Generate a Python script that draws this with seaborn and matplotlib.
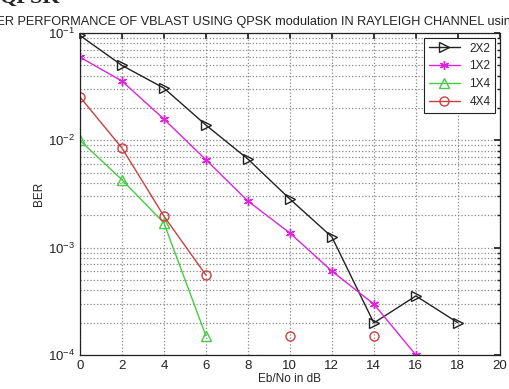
import numpy as np
import pandas as pd
import matplotlib
matplotlib.use("Agg")
import matplotlib.pyplot as plt
import seaborn as sns
from matplotlib.ticker import LogLocator, NullFormatter, FixedLocator
from matplotlib.lines import Line2D

ebno = [0, 2, 4, 6, 8, 10, 12, 14, 16, 18]
ber_2x2 = [0.095, 0.050, 0.0307, 0.0139, 0.0067, 0.00284, 0.00126, 0.000199, 0.000355, 0.0002]
ber_1x2 = [0.0597, 0.0357, 0.0158, 0.0066, 0.00272, 0.00137, 0.000605, 0.000298, 0.0001, np.nan]
ber_1x4 = [0.0100, 0.0043, 0.0017, 0.000151, np.nan, np.nan, np.nan, np.nan, np.nan, np.nan]
ber_4x4 = [0.0254, 0.0085, 0.00197, 0.000556, np.nan, 0.00015, np.nan, 0.00015, np.nan, np.nan]
series_names = ["2X2", "1X2", "1X4", "4X4"]

sns.set_theme(style="white")
plt.rcParams['font.family'] = ['Liberation Sans', 'DejaVu Sans']

fig = plt.figure(figsize=(5.09, 3.89), dpi=100)
ax = fig.add_axes([0.157, 0.0874, 0.825, 0.8276])

styles = {
    "2X2": dict(color="#222222", marker=">", mfc="none"),
    "1X2": dict(color="#dd22dd", marker=(6, 2, 0), mfc="#dd22dd"),
    "1X4": dict(color="#44cc44", marker="^", mfc="none"),
    "4X4": dict(color="#c84040", marker="o", mfc="none"),
}

all_vals = [ber_2x2, ber_1x2, ber_1x4, ber_4x4]
for name, vals in zip(series_names, all_vals):
    v = np.array(vals, dtype=float)
    seg = np.cumsum(np.isnan(v))
    df = pd.DataFrame({"x": ebno, "y": v, "seg": seg}).dropna()
    st = styles[name]
    sns.lineplot(data=df, x="x", y="y", units="seg", estimator=None, ax=ax,
                 color=st["color"], marker=st["marker"], markersize=6.5,
                 markerfacecolor=st["mfc"], markeredgecolor=st["color"],
                 markeredgewidth=1.0, linewidth=1.0, legend=False)

ax.set_yscale("log")
ax.set_xlim(0, 20)
ax.set_ylim(1e-4, 1e-1)
ax.xaxis.set_major_locator(FixedLocator(list(range(0, 21, 2))))
ax.yaxis.set_major_locator(LogLocator(base=10, numticks=10))
ax.yaxis.set_minor_locator(LogLocator(base=10, subs=np.arange(2, 10), numticks=10))
ax.yaxis.set_minor_formatter(NullFormatter())

ax.grid(True, which="major", linestyle=":", color="#888888", linewidth=0.9)
ax.grid(True, which="minor", axis="y", linestyle=":", color="#888888", linewidth=0.9)
ax.tick_params(direction="in", which="both", top=True, right=True, labelsize=9.5, colors="#222222",
               length=4)
ax.tick_params(which="minor", length=2)
for s in ax.spines.values():
    s.set_color("#222222")
    s.set_linewidth(0.9)

ax.set_xlabel("Eb/No in dB", fontsize=8.5, labelpad=1)
ax.set_ylabel("BER", fontsize=8.5, labelpad=2)
ax.set_title("BER PERFORMANCE OF VBLAST USING QPSK modulation IN RAYLEIGH CHANNEL using ZF detection",
             fontsize=9.2, pad=6, color="#222222")

handles = [Line2D([], [], color=styles[n]["color"], marker=styles[n]["marker"], markersize=6.5,
                  markerfacecolor=styles[n]["mfc"], markeredgecolor=styles[n]["color"], linewidth=1.0)
           for n in series_names]
leg = ax.legend(handles, series_names, loc="upper right", fontsize=8.5, frameon=True,
                fancybox=False, framealpha=1, edgecolor="#222222", handlelength=2.6,
                borderaxespad=0.4, labelspacing=0.5)
leg.get_frame().set_linewidth(0.8)

fig.text(0.0, 1 - 3 / 389, "QPSK", fontsize=16, fontweight="bold", family="Liberation Serif",
         va="baseline", ha="left")

fig.savefig("out.png", dpi=100)
